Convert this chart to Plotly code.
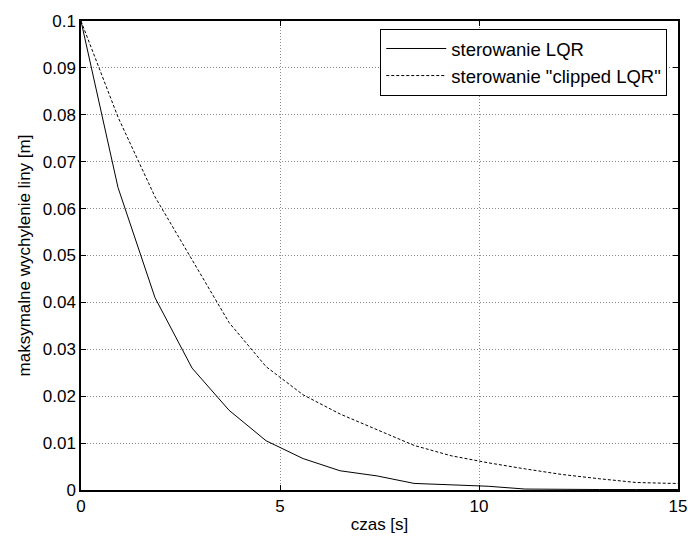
import plotly.graph_objects as go

t = [0, 0.93, 1.86, 2.79, 3.72, 4.65, 5.58, 6.51, 7.44, 8.37, 9.3, 10.23, 11.16, 12.09, 13.02, 13.95, 14.88, 15]
lqr = [0.1, 0.0645, 0.041, 0.026, 0.017, 0.0105, 0.0067, 0.0041, 0.003, 0.0014, 0.0011, 0.0008, 0.0002, 0.0001, 0.0001, 0.0001, 0.0001, 0.0001]
clipped = [0.1, 0.0795, 0.0625, 0.049, 0.0357, 0.0263, 0.0203, 0.0162, 0.0128, 0.0095, 0.0073, 0.0058, 0.0045, 0.0033, 0.0024, 0.0016, 0.0014, 0.0014]

xticks = [0, 5, 10, 15]
yticks = [0, 0.01, 0.02, 0.03, 0.04, 0.05, 0.06, 0.07, 0.08, 0.09, 0.1]
ytick_labels = ["0", "0.01", "0.02", "0.03", "0.04", "0.05", "0.06", "0.07", "0.08", "0.09", "0.1"]

font = "Liberation Sans, Arial, sans-serif"

fig = go.Figure()
fig.add_trace(go.Scatter(x=t, y=lqr, mode="lines", name="sterowanie LQR",
                         line=dict(color="black", width=1)))
fig.add_trace(go.Scatter(x=t, y=clipped, mode="lines", name='sterowanie "clipped LQR"',
                         line=dict(color="black", width=1, dash="3px,2px")))

axis_common = dict(showline=True, linecolor="black", linewidth=1.5, mirror="ticks",
                   ticks="inside", ticklen=5, tickcolor="black",
                   showgrid=True, gridcolor="#8a8a8a", griddash="1px,2px", gridwidth=1,
                   zeroline=False, ticklabeloverflow="allow",
                   tickfont=dict(size=17, color="black", family=font))

fig.update_xaxes(range=[0, 15], tickvals=xticks, ticktext=[str(v) for v in xticks],
                 title=dict(text="czas [s]", font=dict(size=17, color="black", family=font), standoff=3),
                 automargin=False, **axis_common)
fig.update_yaxes(range=[0, 0.1], tickvals=yticks, ticktext=ytick_labels,
                 title=dict(text="maksymalne wychylenie liny [m]", font=dict(size=17, color="black", family=font), standoff=8),
                 automargin=False, **axis_common)

fig.update_layout(
    width=688, height=537,
    margin=dict(l=81, r=10, t=21, b=47),
    plot_bgcolor="white", paper_bgcolor="white",
    font=dict(family=font, size=17, color="black"),
    showlegend=True,
    legend=dict(x=0.982, y=0.983, xanchor="right", yanchor="top",
                bordercolor="black", borderwidth=1, bgcolor="white",
                font=dict(size=18.5, color="black", family=font),
                tracegroupgap=0, itemwidth=60),
)

fig.write_html("out.html", config={"displayModeBar": False},
               post_script="document.body.style.margin='0';document.body.style.overflow='hidden';")
